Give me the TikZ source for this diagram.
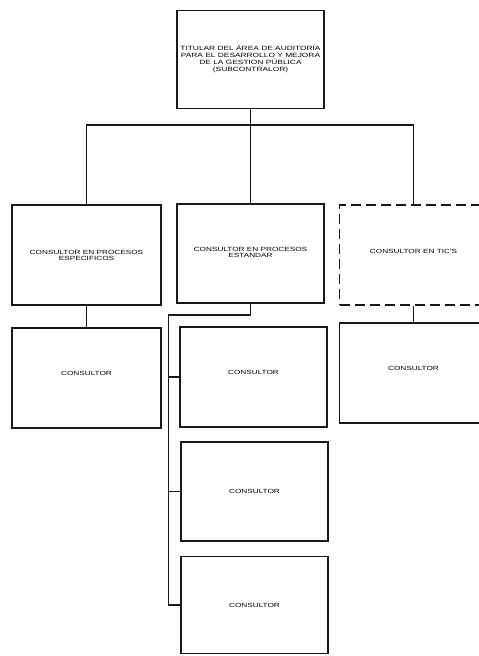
\documentclass[tikz,border=0pt]{standalone}
\usepackage{fontspec}
\newfontfamily\orgfont[FakeStretch=1.37]{Liberation Sans}
\newcommand{\upby}[2]{\raisebox{#1}{\begin{tabular}{@{}c@{}}#2\end{tabular}}}
\begin{document}
\begin{tikzpicture}[x=1pt,y=-1pt,
  box/.style={draw=black!90, line width=1.2pt, rectangle, align=center, inner sep=0pt,
    font=\orgfont\fontsize{6}{5.9}\selectfont, text=black},
  dashbox/.style={box, dash pattern=on 10pt off 5pt, line width=1.4pt},
  conn/.style={draw=black!90, line width=1.2pt}]
\clip (0,0) rectangle (479,656);
\fill[white] (0,0) rectangle (479,656);
% top
\node[box, minimum width=147pt, minimum height=98pt, font=\orgfont\fontsize{6.1}{6.7}\selectfont] (top) at (250.5,59.5)
  {\upby{9pt}{TITULAR DEL ÁREA DE AUDITORÍA\\PARA EL DESARROLLO Y MEJORA\\DE LA GESTION PÚBLICA\\(SUBCONTRALOR)}};
% second row
\node[box, minimum width=149pt, minimum height=100pt] (A) at (86.5,255) {CONSULTOR EN PROCESOS\\ESPECIFICOS};
\node[box, minimum width=147pt, minimum height=99pt] (B) at (250.5,253.5) {\upby{2pt}{CONSULTOR EN PROCESOS\\ESTANDAR}};
\node[dashbox, minimum width=148pt, minimum height=100pt] (C) at (413.5,255) {\upby{6pt}{CONSULTOR EN TIC'S}};
% third row
\node[box, minimum width=149pt, minimum height=100pt] (D) at (86.5,378) {\upby{9pt}{CONSULTOR}};
\node[box, minimum width=147pt, minimum height=100pt] (E) at (253.5,377) {\upby{8pt}{CONSULTOR}};
\node[box, minimum width=148pt, minimum height=100pt] (F) at (413.5,373) {\upby{8pt}{CONSULTOR}};
\node[box, minimum width=147pt, minimum height=99pt] (G) at (254.5,491.5) {CONSULTOR};
\node[box, minimum width=147pt, minimum height=97pt] (H) at (254.5,605) {CONSULTOR};
% connectors
\coordinate (bus) at (250.5,125);
\coordinate (sp) at (168.5,315);
\draw[conn] (top.south) -- (B.north);
\draw[conn] (A.north) |- (bus) -| (C.north);
\draw[conn] (A.south) -- (D.north);
\draw[conn] (C.south) -- (F.north);
\draw[conn] (B.south) |- (sp) -- (sp |- H.west) -- (H.west);
\draw[conn] (sp |- E.west) -- (E.west);
\draw[conn] (sp |- G.west) -- (G.west);
\end{tikzpicture}
\end{document}
